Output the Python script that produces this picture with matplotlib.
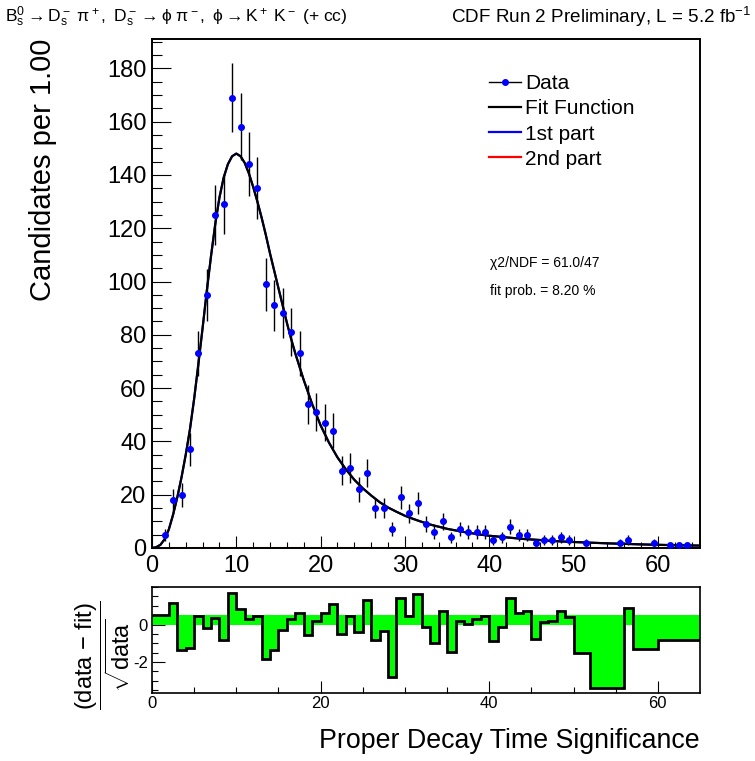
import numpy as np
import matplotlib
matplotlib.use("Agg")
import matplotlib.pyplot as plt
from matplotlib.lines import Line2D

plt.rcParams["font.family"] = ["Liberation Sans", "DejaVu Sans"]
plt.rcParams["mathtext.fontset"] = "custom"
plt.rcParams["mathtext.rm"] = "Liberation Sans"
plt.rcParams["mathtext.it"] = "Liberation Sans:italic"
plt.rcParams["mathtext.sf"] = "Liberation Sans"
plt.rcParams["xtick.direction"] = "in"
plt.rcParams["ytick.direction"] = "in"
plt.rcParams["axes.unicode_minus"] = False

# histogram: bins of width 1.00 from 0 to 65
bin_centers = np.arange(0.5, 65.0, 1.0)
counts = [
    0, 5, 18, 20, 37, 73, 95, 125, 129, 169,
    158, 144, 135, 99, 91, 88, 81, 73, 54, 51,
    47, 44, 29, 30, 22, 28, 15, 15, 7, 19,
    13, 17, 9, 6, 10, 4, 7, 6, 6, 6,
    3, 4, 8, 5, 5, 2, 3, 3, 4, 3,
    0, 2, 0, 0, 0, 2, 3, 0, 0, 2,
    0, 1, 1, 1, 0,
]

# fit function
fit_x = [0, 0.5, 1, 1.5, 2, 2.5, 3, 3.5, 4, 4.5, 5, 5.5, 6, 6.5, 7, 7.5, 8, 8.5,
         9, 9.5, 10, 10.5, 11, 11.5, 12, 12.5, 13, 13.5, 14, 14.5, 15, 15.5,
         16, 16.5, 17, 17.5, 18, 18.5, 19, 19.5, 20, 21, 22, 23, 24, 25, 26,
         27, 28, 29, 30, 31, 32, 33, 34, 35, 36, 37, 38, 39, 40, 41, 42, 43,
         44, 45, 46, 47, 48, 49, 50, 52, 54, 56, 58, 60, 62, 65]
fit_y = [0, 0.3, 1.2, 3.3, 7, 12.5, 19, 26.5, 35, 44.5, 56, 69, 82.5, 96.5,
         109.5, 121.5, 131.5, 139, 144, 147, 148, 147, 144.5, 140.5, 135.5,
         130, 124, 117.5, 110.5, 104, 97.5, 91, 84.5, 78.5, 73, 68, 63, 58.5,
         54, 50, 46, 39.5, 34, 29.5, 25.6, 22.4, 19.7, 17.2, 15.2, 13.6, 12.1,
         10.9, 9.8, 8.8, 8.0, 7.2, 6.6, 6.0, 5.5, 5.0, 4.6, 4.3, 4.0, 3.7, 3.4,
         3.2, 3.0, 2.75, 2.55, 2.4, 2.25, 2.0, 1.75, 1.55, 1.35, 1.2, 1.05, 0.9]

# second fit component (flat at zero)
part2_x = [0, 65]
part2_y = [0, 0]

# residuals (data - fit)/sqrt(data), empty bins merged
resid_edges = [0, 2, 3, 4, 5, 6, 7, 8, 9, 10, 11, 12, 13, 14, 15, 16, 17, 18,
               19, 20, 21, 22, 23, 24, 25, 26, 27, 28, 29, 30, 31, 32, 33, 34,
               35, 36, 37, 38, 39, 40, 41, 42, 43, 44, 45, 46, 47, 48, 49, 50,
               52, 56, 57, 60, 63, 65]
resid_values = [0.53, 1.17, -1.38, -1.26, 0.46, -0.18, 0.34, -0.85, 1.70,
                0.85, 0.28, 0.44, -1.84, -1.35, -0.28, 0.27, 0.62, -0.55, 0.18,
                0.64, 1.08, -0.48, 0.46, -0.39, 1.29, -0.85, -0.32, -2.82, 1.40,
                0.43, 1.61, -0.11, -0.98, 0.71, -1.47, 0.18, 0.05, 0.27, 0.44,
                -0.89, -0.11, 1.44, 0.64, 0.74, -0.78, 0.11, 0.21, 0.74, 0.41,
                -1.51, -3.40, 0.87, -1.29, -0.83, -0.80]

W, H = 755, 761
fig = plt.figure(figsize=(W / 100, H / 100), dpi=100)


def fx(px):
    return px / W


def fy(py):
    return 1 - py / H


ax = fig.add_axes([fx(152), fy(548), fx(700) - fx(152), fy(39) - fy(548)])
rax = fig.add_axes([fx(152), fy(693), fx(700) - fx(152), fy(587) - fy(693)])

# main panel
counts_arr = np.array(counts, dtype=float)
shown = counts_arr > 0
ax.plot(part2_x, part2_y, color="red", lw=2.2, zorder=2)
ax.plot(fit_x, fit_y, color="blue", lw=1.5, zorder=2)
ax.plot(fit_x, fit_y, color="black", lw=1.6, zorder=3)
ax.errorbar(bin_centers[shown], counts_arr[shown], yerr=np.sqrt(counts_arr[shown]),
            xerr=0.35, fmt="o", color="blue", ms=4, ecolor="black", elinewidth=1.0,
            capsize=0, zorder=4)

ax.set_xlim(0, 65)
ax.set_ylim(0, 191)
ax.set_xticks(np.arange(0, 61, 10))
ax.set_xticks(np.arange(0, 65, 2), minor=True)
ax.set_yticks(np.arange(0, 181, 20))
ax.set_yticks(np.arange(0, 191, 5), minor=True)
ax.tick_params(axis="both", labelsize=17, width=0.8)
ax.tick_params(axis="x", which="major", length=9, pad=5)
ax.tick_params(axis="x", which="minor", length=4.3, width=0.8)
ax.tick_params(axis="y", which="major", length=14, pad=4)
ax.tick_params(axis="y", which="minor", length=7, width=0.8)
for s in ax.spines.values():
    s.set_linewidth(1.4)

handles = [
    Line2D([], [], color="black", lw=1.0, marker="o", ms=4, mfc="blue", mec="blue"),
    Line2D([], [], color="black", lw=1.6),
    Line2D([], [], color="blue", lw=1.6),
    Line2D([], [], color="red", lw=1.6),
]
ax.legend(handles, ["Data", "Fit Function", "1st part", "2nd part"],
          loc="upper left", bbox_to_anchor=((489 - 152) / 548, (548 - 74) / 509),
          frameon=False, fontsize=15, handlelength=1.55, handletextpad=0.2,
          labelspacing=0.3, borderpad=0, borderaxespad=0)

ax.text(40.1, 107, "\u03c72/NDF = 61.0/47", fontsize=10, va="center")
ax.text(40.1, 96.6, "fit prob. = 8.20 %", fontsize=10, va="center")

# residual panel
rax.axhspan(0, 0.49, color="#00ff00", lw=0, zorder=1)
rax.stairs(resid_values, resid_edges, baseline=0, fill=True, color="#00ff00", zorder=2)
rax.stairs(resid_values, resid_edges, baseline=None, color="black", lw=2.0, zorder=3)
rax.set_xlim(0, 65)
rax.set_ylim(-3.65, 2.0)
rax.set_xticks([0, 20, 40, 60])
rax.set_xticks(np.arange(0, 65, 5), minor=True)
rax.set_yticks([-2, 0])
rax.set_yticks(np.arange(-3.5, 2.01, 0.5), minor=True)
rax.tick_params(axis="both", labelsize=12, width=0.8)
rax.tick_params(axis="x", which="major", length=9, pad=2)
rax.tick_params(axis="x", which="minor", length=4, width=0.8)
rax.tick_params(axis="y", which="major", length=9, pad=3)
rax.tick_params(axis="y", which="minor", length=4.3, width=0.8)
for s in rax.spines.values():
    s.set_linewidth(1.2)

# texts
fig.text(fx(43), fy(39), "Candidates per 1.00", rotation=90, ha="center", va="top",
         fontsize=21)
fig.text(fx(700), fy(741), "Proper Decay Time Significance", ha="right", va="center",
         fontsize=19.3)
fig.text(fx(132), fy(655),
         r"$\dfrac{\mathrm{(data\ {-}\ fit)}}{\sqrt{\mathrm{data}}}$",
         rotation=90, ha="right", va="center", fontsize=17)

fig.text(fx(5), fy(17), r"$\mathrm{B_s^0 \rightarrow D_s^-\ \pi^+,\ D_s^- \rightarrow "
         r"\phi\ \pi^-,\ \phi \rightarrow K^+\ K^-\ (+\ cc)}$",
         ha="left", va="center", fontsize=12.6)
fig.text(fx(451), fy(17), r"CDF Run 2 Preliminary, L = 5.2 fb$^{-1}$",
         ha="left", va="center", fontsize=13.6)

fig.savefig("out.png", dpi=100)
